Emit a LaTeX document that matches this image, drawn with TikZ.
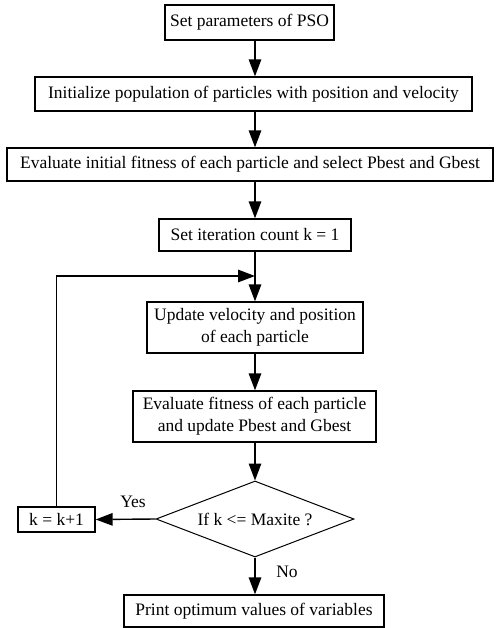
\documentclass[tikz,border=0pt]{standalone}
\usepackage{fontspec}
\setmainfont{Liberation Serif}
\usetikzlibrary{shapes.geometric,arrows.meta}
\begin{document}
\begin{tikzpicture}[x=1pt,y=-1pt,
  box/.style={draw,line width=1.3pt,inner sep=0pt,align=center,
    font=\fontsize{17.5}{22}\selectfont},
  arr/.style={line width=1.4pt,-{Triangle[length=17pt,width=12.5pt]}},
  lbl/.style={font=\fontsize{17.5}{22}\selectfont}]
\useasboundingbox (0,0) rectangle (496,628);
\coordinate (axis) at (255,0);

\node[box,minimum width=169pt,minimum height=35pt] (b1) at (249.5,22.5) {Set parameters of PSO};
\node[box,minimum width=437pt,minimum height=34pt] (b2) at (253.5,94) {Initialize population of particles with position and velocity};
\node[box,minimum width=486pt,minimum height=33pt] (b3) at (250,164.5) {Evaluate initial fitness of each particle and select Pbest and Gbest};
\node[box,minimum width=192pt,minimum height=32pt] (b4) at (255,235) {Set iteration count k = 1};
\node[box,minimum width=216pt,minimum height=51pt] (b5) at (255,327.5) {Update velocity and position\\of each particle};
\node[box,minimum width=243pt,minimum height=51pt] (b6) at (254.5,416.5) {Evaluate fitness of each particle\\and update Pbest and Gbest};
\node[diamond,draw,line width=1pt,inner sep=0pt,aspect=2.6,
  minimum width=198pt,minimum height=76pt,lbl] (dec) at (255,519) {If k <= Maxite ?};
\node[box,minimum width=77pt,minimum height=25pt] (inc) at (56.5,519.5) {k = k+1};
\node[box,minimum width=260pt,minimum height=32pt] (out) at (254,611) {Print optimum values of variables};

\coordinate (join) at (255,276);

\draw[arr] (b1.south -| axis) -- (b2.north -| axis);
\draw[arr] (b2.south -| axis) -- (b3.north -| axis);
\draw[arr] (b3.south -| axis) -- (b4.north -| axis);
\draw[arr] (b4.south -| axis) -- (b5.north -| axis);
\draw[arr] (b5.south -| axis) -- (b6.north -| axis);
\draw[arr] (b6.south -| axis) -- (dec.north);
\draw[arr] (dec.west) -- (inc.east);
\draw[arr] (dec.south) -- (out.north -| dec.south);
\draw[arr] (inc.north) |- (join);

\node[lbl] at (133,502) {Yes};
\node[lbl] at (287,572) {No};
\end{tikzpicture}
\end{document}
